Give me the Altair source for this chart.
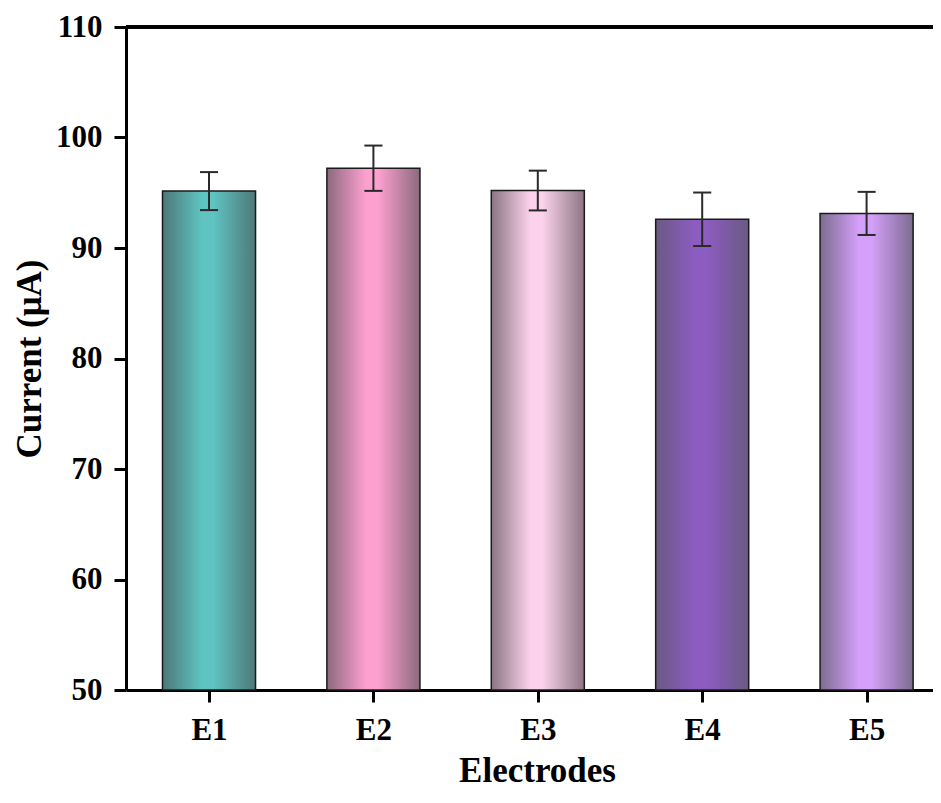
import altair as alt
import pandas as pd

# ---- data ----
categories = ["E1", "E2", "E3", "E4", "E5"]
positions = [1, 2, 3, 4, 5]
currents = [95.15, 97.22, 95.2, 92.6, 93.13]
errors = [1.72, 2.05, 1.8, 2.42, 1.95]
bright_colors = ["#5ec3c1", "#fda0d0", "#fcd2ec", "#8c5cc0", "#d5a0fa"]
edge_colors = ["#4e7878", "#8c6a7e", "#8b7584", "#6a5984", "#7c6c90"]
y_ticks = [50, 60, 70, 80, 90, 100, 110]

df = pd.DataFrame({"cat": categories, "pos": positions, "value": currents, "err": errors})

W, H = 807, 663
FONT = "Liberation Serif"

xscale = alt.Scale(domain=[0.495, 5.404], nice=False, zero=False)
yscale = alt.Scale(domain=[50, 110], nice=False, zero=False)

label_expr = "[" + ",".join("'%s'" % c for c in categories) + "][datum.value - 1]"

xaxis = alt.Axis(
    values=positions, labelExpr=label_expr, title="Electrodes",
    grid=False, domainWidth=3, domainColor="black", tickWidth=3, tickColor="black",
    tickSize=12, labelFont=FONT, labelFontWeight="bold", labelFontSize=31,
    labelColor="black", labelPadding=13, titleFont=FONT, titleFontWeight="bold",
    titleFontSize=35, titleColor="black", titlePadding=8, titleX=411,
)
yaxis = alt.Axis(
    values=y_ticks, title="Current (μA)",
    grid=False, domainWidth=3, domainColor="black", tickWidth=3, tickColor="black",
    tickSize=12, labelFont=FONT, labelFontWeight="bold", labelFontSize=31,
    labelColor="black", labelPadding=12, titleFont=FONT, titleFontWeight="bold",
    titleFontSize=35, titleColor="black", titlePadding=8,
)

base = alt.Chart(df).transform_calculate(
    x0="datum.pos - 0.283", x1="datum.pos + 0.283",
    lo="datum.value - datum.err", hi="datum.value + datum.err",
    c0="datum.pos - 0.055", c1="datum.pos + 0.055",
)

layers = []
for i, c in enumerate(categories):
    grad = alt.Gradient(
        gradient="linear", x1=0, x2=1, y1=0, y2=0,
        stops=[
            alt.GradientStop(offset=0, color=edge_colors[i]),
            alt.GradientStop(offset=0.42, color=bright_colors[i]),
            alt.GradientStop(offset=0.55, color=bright_colors[i]),
            alt.GradientStop(offset=1, color=edge_colors[i]),
        ],
    )
    layers.append(
        base.transform_filter(alt.datum.cat == c)
        .mark_bar(fill=grad, stroke="#1a1a1a", strokeWidth=1.5)
        .encode(
            x=alt.X("x0:Q", scale=xscale, axis=xaxis),
            x2="x1:Q",
            y=alt.Y("value:Q", scale=yscale, axis=yaxis),
            y2=alt.datum(50),
        )
    )

err_stem = base.mark_rule(stroke="#2a2a2a", strokeWidth=2).encode(
    x=alt.X("pos:Q", scale=xscale, axis=xaxis),
    y=alt.Y("lo:Q", scale=yscale, axis=yaxis),
    y2="hi:Q",
)
cap_hi = base.mark_rule(stroke="#2a2a2a", strokeWidth=2).encode(
    x=alt.X("c0:Q", scale=xscale, axis=xaxis), x2="c1:Q",
    y=alt.Y("hi:Q", scale=yscale, axis=yaxis),
)
cap_lo = base.mark_rule(stroke="#2a2a2a", strokeWidth=2).encode(
    x=alt.X("c0:Q", scale=xscale, axis=xaxis), x2="c1:Q",
    y=alt.Y("lo:Q", scale=yscale, axis=yaxis),
)
top_line = alt.Chart(df).mark_rule(stroke="black", strokeWidth=3).encode(
    y=alt.datum(110), x=alt.value(0), x2=alt.value(W),
)

chart = (
    alt.layer(*layers, err_stem, cap_hi, cap_lo, top_line)
    .properties(
        width=W, height=H,
        autosize=alt.AutoSizeParams(type="none"),
        padding={"left": 118, "top": 19, "right": 0, "bottom": 105},
    )
    .configure_view(stroke="transparent")
)

chart.save("out.html", embed_options={"renderer": "svg", "actions": False})
